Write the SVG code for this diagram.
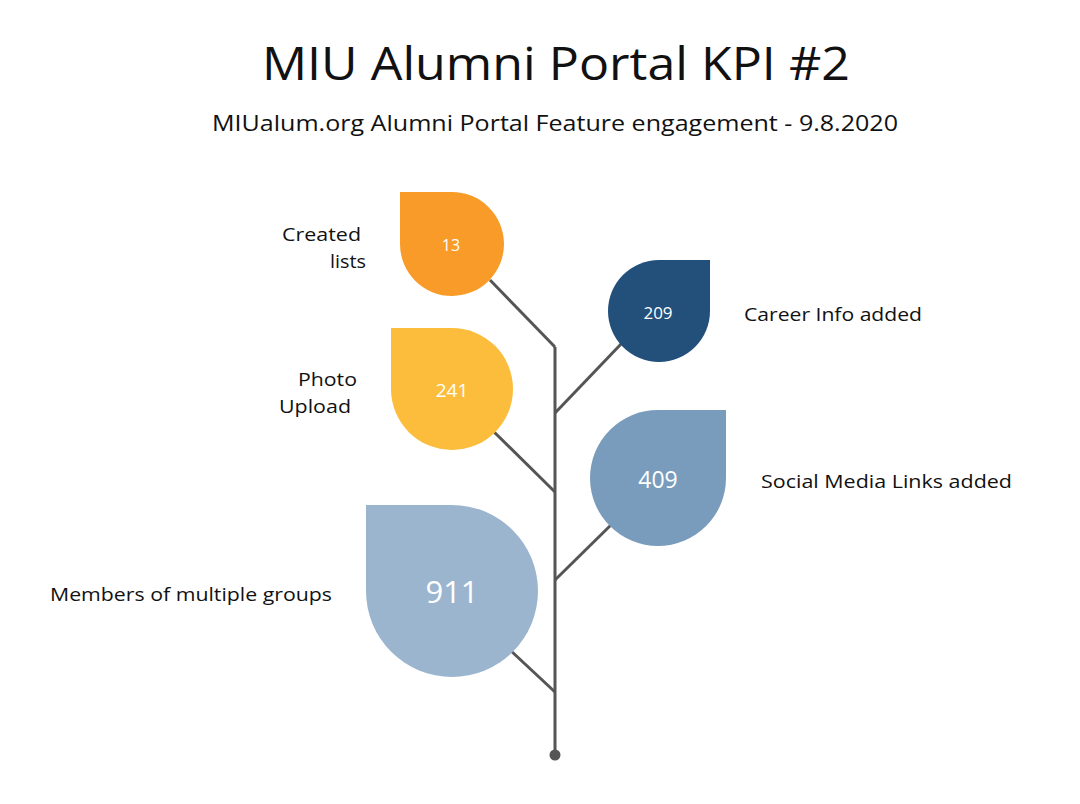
<svg xmlns="http://www.w3.org/2000/svg" width="1080" height="804" viewBox="0 0 1080 804">
<style>
text{font-family:"Open Sans","Liberation Sans",sans-serif;fill:#111}
.lbl{font-size:19px}
.num{fill:#fff;text-anchor:middle}
.ln{stroke:#555;stroke-width:3;fill:none}
</style>
<rect width="1080" height="804" fill="#fff"/>
<text x="262" y="80" font-size="45" textLength="588" lengthAdjust="spacingAndGlyphs">MIU Alumni Portal KPI #2</text>
<text x="212" y="131" font-size="21" textLength="686" lengthAdjust="spacingAndGlyphs">MIUalum.org Alumni Portal Feature engagement - 9.8.2020</text>
<g id="connectors">
<line class="ln" x1="555" y1="347" x2="555" y2="755"/>
<circle cx="555" cy="755" r="5.5" fill="#555"/>
<line class="ln" x1="490" y1="280" x2="555" y2="347"/>
<line class="ln" x1="555" y1="413" x2="622" y2="343"/>
<line class="ln" x1="490" y1="428" x2="555" y2="492"/>
<line class="ln" x1="555" y1="580" x2="614" y2="522"/>
<line class="ln" x1="510" y1="650" x2="555" y2="692"/>
</g>
<g id="n13"><path d="M400,192 H451 A52,52 0 1 1 400,244 Z" fill="#F99B28"/><text class="num" x="451" y="251" font-size="16">13</text>
<text class="lbl" x="282" y="241" textLength="79" lengthAdjust="spacingAndGlyphs">Created</text><text class="lbl" x="330" y="268" textLength="36" lengthAdjust="spacingAndGlyphs">lists</text></g>
<g id="n209"><path d="M710,260 V311 A51,51 0 1 1 659,260 Z" fill="#22507A"/><text class="num" x="658" y="319" font-size="17">209</text>
<text class="lbl" x="744" y="321" textLength="178" lengthAdjust="spacingAndGlyphs">Career Info added</text></g>
<g id="n241"><path d="M391,328 H452 A61,61 0 1 1 391,389 Z" fill="#FBBD3B"/><text class="num" x="452" y="397" font-size="19">241</text>
<text class="lbl" x="298" y="386" textLength="59" lengthAdjust="spacingAndGlyphs">Photo</text><text class="lbl" x="279" y="413" textLength="72" lengthAdjust="spacingAndGlyphs">Upload</text></g>
<g id="n409"><path d="M726,410 V478 A68,68 0 1 1 658,410 Z" fill="#7A9CBC"/><text class="num" x="658" y="488" font-size="23">409</text>
<text class="lbl" x="761" y="488" textLength="251" lengthAdjust="spacingAndGlyphs">Social Media Links added</text></g>
<g id="n911"><path d="M366,505 H452 A86,86 0 1 1 366,591 Z" fill="#9CB5CF"/><text class="num" x="452" y="603" font-size="31">911</text>
<text class="lbl" x="50" y="601" textLength="282" lengthAdjust="spacingAndGlyphs">Members of multiple groups</text></g>
</svg>
